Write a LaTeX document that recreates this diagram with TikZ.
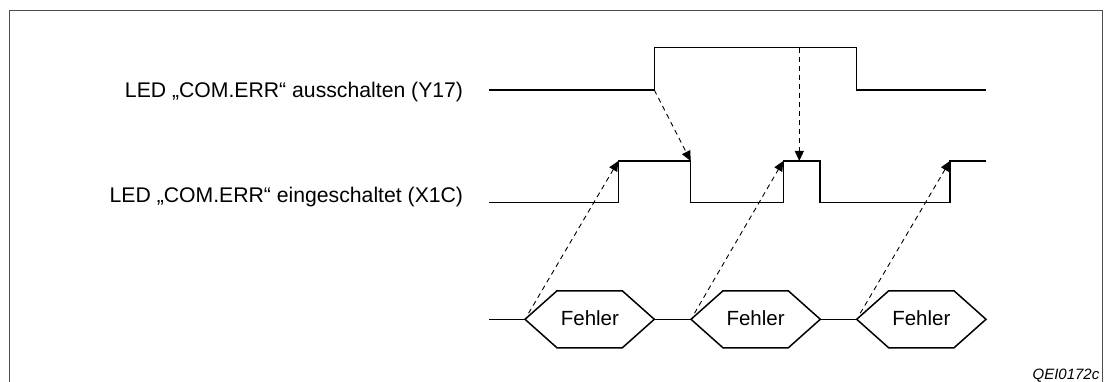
\documentclass[tikz,border=0pt]{standalone}
\usepackage{fontspec}
\setmainfont{Liberation Sans}
\usetikzlibrary{arrows.meta}
\begin{document}
\begin{tikzpicture}[x=1pt, y=-1pt]
    % Styles
    \tikzstyle{frame} = [line width=1.6pt, draw=black!70]
    \tikzstyle{sigline} = [line width=1.5pt, line join=miter]
    \tikzstyle{siglabel} = [font=\fontsize{21.2}{25}\selectfont, inner sep=0pt]
    \tikzstyle{fehlertext} = [font=\fontsize{20.5}{24}\selectfont, inner sep=0pt]
    \tikzstyle{dasharrow} = [line width=0.9pt, dash pattern=on 5pt off 4pt,
        -{Triangle[length=10pt,width=9pt]}]

    \useasboundingbox (0,0) rectangle (1106,382);

    % === Frame ===
    \draw [frame] (9.5,382) -- (9.5,10.5) -- (1102.5,10.5) -- (1102.5,382);
    \node [anchor=base east, inner sep=0pt, font=\fontsize{15}{18}\selectfont\itshape]
        (code) at (1099.5,379.5) {QEI0172c};

    % === Labels ===
    \node [siglabel, anchor=base east] (y17) at (463.3,97.6) {LED „COM.ERR“ ausschalten (Y17)};
    \node [siglabel, anchor=base east] (x1c) at (463.3,202.4) {LED „COM.ERR“ eingeschaltet (X1C)};

    % === Y17 signal ===
    \coordinate (yrise) at (654.3,90);
    \coordinate (ytop) at (799.3,47.7);
    \draw [sigline] (489,90) -- (yrise) -- (654.3,47.7) -- (856.7,47.7)
        -- (856.7,90) -- (986,90);

    % === X1C signal ===
    \coordinate (xr1) at (618.3,161);
    \coordinate (xf1) at (690.7,161);
    \coordinate (xr2) at (783.3,161);
    \coordinate (xtop) at (799.3,161);
    \coordinate (xr3) at (950,161);
    \draw [sigline] (489,202.7) -- (618.3,202.7) -- (xr1) -- (xf1) -- (690.7,202.7)
        -- (783.3,202.7) -- (xr2) -- (820,161) -- (820,202.7) -- (950,202.7)
        -- (xr3) -- (986,161);

    % === Error bus ===
    \coordinate (h1) at (525,319.3);
    \coordinate (h2) at (691,319.3);
    \coordinate (h3) at (856.7,319.3);
    \draw [sigline] (489,319.3) -- (h1);
    \draw [sigline] (654.3,319.3) -- (h2);
    \draw [sigline] (820.3,319.3) -- (h3);
    \draw [sigline] (h1) -- ++(32,-28.5) -- ++(65.3,0) -- ++(32,28.5)
        -- ++(-32,28.5) -- ++(-65.3,0) -- cycle;
    \draw [sigline] (h2) -- ++(32,-28.5) -- ++(65.3,0) -- ++(32,28.5)
        -- ++(-32,28.5) -- ++(-65.3,0) -- cycle;
    \draw [sigline] (h3) -- ++(32,-28.5) -- ++(65.3,0) -- ++(32,28.5)
        -- ++(-32,28.5) -- ++(-65.3,0) -- cycle;
    \node [fehlertext, anchor=base] (f1) at (589.9,325) {Fehler};
    \node [fehlertext, anchor=base] (f2) at (755.6,325) {Fehler};
    \node [fehlertext, anchor=base] (f3) at (921.3,325) {Fehler};

    % === Dashed arrows ===
    \draw [dasharrow] (yrise) -- (xf1);
    \draw [dasharrow] (ytop) -- (xtop);
    \draw [dasharrow, shorten <=7pt] (h1) -- (xr1);
    \draw [dasharrow, shorten <=7pt] (h2) -- (xr2);
    \draw [dasharrow, shorten <=7pt] (h3) -- (xr3);
\end{tikzpicture}
\end{document}
